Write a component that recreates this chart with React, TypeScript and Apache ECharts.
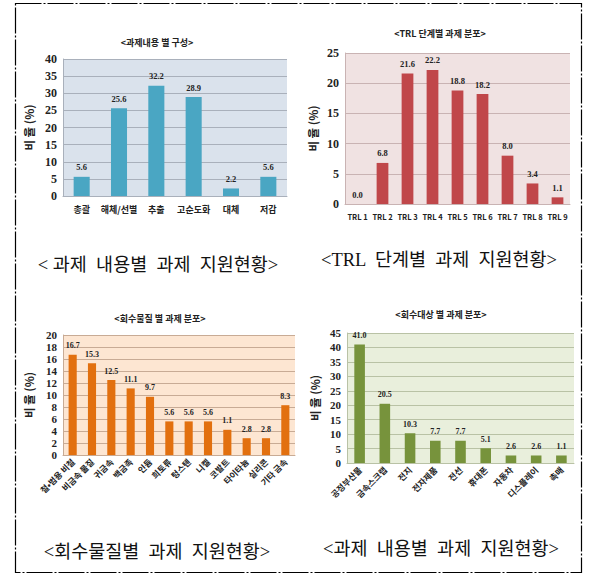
import React, { useEffect, useRef } from "react";
import * as echarts from "echarts";

// Chart 1: 과제내용 별 구성
const contentCats = ["총괄", "해체/선별", "추출", "고순도화", "대체", "저감"];
const contentVals = [5.6, 25.6, 32.2, 28.9, 2.2, 5.6];

// Chart 2: TRL 단계별 과제 분포
const trlCats = ["TRL 1", "TRL 2", "TRL 3", "TRL 4", "TRL 5", "TRL 6", "TRL 7", "TRL 8", "TRL 9"];
const trlVals = [0.0, 6.8, 21.6, 22.2, 18.8, 18.2, 8.0, 3.4, 1.1];

// Chart 3: 회수물질 별 과제 분포
const materialCats = ["철•범용 비철", "비금속 물질", "귀금속", "백금족", "인듐", "희토류", "텅스텐", "니켈", "코발트", "타이타늄", "실리콘", "기타 금속"];
const materialVals = [16.7, 15.3, 12.5, 11.1, 9.7, 5.6, 5.6, 5.6, 4.2, 2.8, 2.8, 8.3];
const materialLabels = ["16.7", "15.3", "12.5", "11.1", "9.7", "5.6", "5.6", "5.6", "1.1", "2.8", "2.8", "8.3"];

// Chart 4: 회수대상 별 과제 분포
const targetCats = ["공정부산물", "금속스크랩", "전지", "전자제품", "전선", "휴대폰", "자동차", "디스플레이", "촉매"];
const targetVals = [41.0, 20.5, 10.3, 7.7, 7.7, 5.1, 2.6, 2.6, 2.6];
const targetLabels = ["41.0", "20.5", "10.3", "7.7", "7.7", "5.1", "2.6", "2.6", "1.1"];

const titles = ["<과제내용 별 구성>", "<TRL 단계별 과제 분포>", "<회수물질 별 과제 분포>", "<회수대상 별 과제 분포>"];
const captions = ["< 과제  내용별  과제  지원현황>", "<TRL  단계별  과제  지원현황>", "<회수물질별  과제  지원현황>", "<과제  내용별  과제  지원현황>"];
const yName = "비 율 (%)";

const SERIF = "'Liberation Serif', 'Times New Roman', serif";
const SANS = "'Noto Sans CJK KR', sans-serif";
const CAPTION_FONT = "'Liberation Serif', 'Noto Sans CJK KR', serif";

export default function App() {
  const ref = useRef<HTMLDivElement>(null);
  useEffect(() => {
    if (!ref.current) return;
    const chart = echarts.init(ref.current, null, { renderer: "svg" });

    const grids = [
      { left: 63, top: 59, width: 224, height: 137, backgroundColor: "#dae2ec" },
      { left: 345, top: 53, width: 225, height: 151, backgroundColor: "#f0e2e2" },
      { left: 63, top: 335, width: 232, height: 120, backgroundColor: "#fde6d2" },
      { left: 347, top: 333, width: 227, height: 130, backgroundColor: "#e9efdc" },
    ].map((g) => ({ ...g, show: true, borderWidth: 0, containLabel: false }));

    const cats = [contentCats, trlCats, materialCats, targetCats];
    const vals = [contentVals, trlVals, materialVals, targetVals];
    const labels = [
      contentVals.map((v) => v.toFixed(1)),
      trlVals.map((v) => v.toFixed(1)),
      materialLabels,
      targetLabels,
    ];
    const colors = ["#4aa6c3", "#c0474a", "#e2700f", "#77933c"];
    const gridColors = ["#a9b0bb", "#c9b3b3", "#c8ab95", "#b9c2a5"];
    const yMax = [40, 25, 20, 45];
    const yInt = [5, 5, 2, 5];
    const yFont = [12, 12, 11, 11];
    const xFont = [9, 7.5, 8.5, 8.5];
    const xRot = [0, 0, 45, 45];
    const barW = ["43%", "47%", "42%", "42%"];
    const lblFont = [8.5, 8.5, 8, 8];
    const nameGap = [28, 26, 28, 26];

    const xAxis = cats.map((c, i) => ({
      type: "category",
      gridIndex: i,
      data: c,
      axisTick: { show: false },
      axisLine: { show: true, lineStyle: { color: gridColors[i], width: 1 } },
      axisLabel: {
        interval: 0,
        rotate: xRot[i],
        fontFamily: SANS,
        fontWeight: "bold",
        fontSize: xFont[i],
        color: "#222",
        margin: xRot[i] ? 5 : 9,
      },
    }));

    const yAxis = cats.map((_, i) => ({
      type: "value",
      gridIndex: i,
      min: 0,
      max: yMax[i],
      interval: yInt[i],
      name: yName,
      nameLocation: "middle",
      nameRotate: 90,
      nameGap: nameGap[i],
      nameTextStyle: { fontFamily: SANS, fontWeight: "bold", fontSize: 11.5, color: "#222" },
      axisLine: { show: true, lineStyle: { color: gridColors[i], width: 1 } },
      axisTick: { show: false },
      splitLine: { show: true, lineStyle: { color: gridColors[i], width: 1 } },
      axisLabel: { fontFamily: SERIF, fontWeight: "bold", fontSize: yFont[i], color: "#222", margin: 6 },
    }));

    const series = vals.map((v, i) => ({
      type: "bar",
      xAxisIndex: i,
      yAxisIndex: i,
      data: v,
      barWidth: barW[i],
      itemStyle: { color: colors[i] },
      label: {
        show: true,
        position: "top",
        distance: 5,
        fontFamily: SERIF,
        fontWeight: "bold",
        fontSize: lblFont[i],
        color: "#222",
        formatter: (p: any) => labels[i][p.dataIndex],
      },
    }));

    const titleText = [
      { x: 157, y: 42 },
      { x: 440, y: 33 },
      { x: 160, y: 318 },
      { x: 441, y: 314 },
    ].map((p, i) => ({
      type: "text",
      x: p.x,
      y: p.y,
      style: {
        text: titles[i],
        fontFamily: SANS,
        fontWeight: "bold",
        fontSize: 9,
        fill: "#222",
        align: "center",
        verticalAlign: "middle",
      },
    }));

    const captionText = [
      { x: 158, y: 265 },
      { x: 439, y: 260 },
      { x: 157, y: 552 },
      { x: 441, y: 549 },
    ].map((p, i) => ({
      type: "text",
      x: p.x,
      y: p.y,
      style: {
        text: captions[i],
        fontFamily: CAPTION_FONT,
        fontSize: 18.5,
        fill: "#111",
        align: "center",
        verticalAlign: "middle",
      },
    }));

    chart.setOption({
      animation: false,
      backgroundColor: "#ffffff",
      grid: grids,
      xAxis,
      yAxis,
      series,
      graphic: [
        {
          type: "rect",
          shape: { x: 15.5, y: 3.5, width: 566, height: 569 },
          style: { fill: "none", stroke: "#000", lineWidth: 1.2, lineDash: [26, 2, 2, 2] },
        },
        ...titleText,
        ...captionText,
      ],
    });
    return () => chart.dispose();
  }, []);
  return <div ref={ref} style={{ position: "fixed", left: 0, top: 0, width: 593, height: 578 }} />;
}
